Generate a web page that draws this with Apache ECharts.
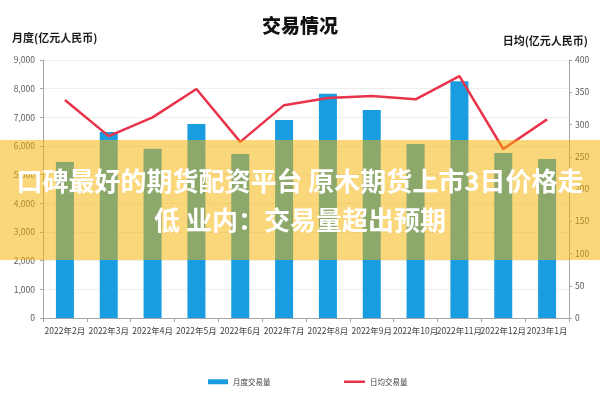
<!DOCTYPE html>
<html>
<head>
<meta charset="utf-8">
<script src="https://cdn.jsdelivr.net/npm/echarts@6/dist/echarts.min.js"></script>
<style>html,body{margin:0;padding:0;background:#fff}#c{width:600px;height:400px}</style>
</head>
<body>
<div id="c"></div>
<script>
var categories = ['2022年2月','2022年3月','2022年4月','2022年5月','2022年6月','2022年7月','2022年8月','2022年9月','2022年10月','2022年11月','2022年12月','2023年1月'];
var monthlyVolume = [5440, 6490, 5900, 6770, 5720, 6910, 7820, 7255, 6070, 8260, 5755, 5546];
var dailyVolume = [338, 282, 311, 355, 273, 330, 341, 344, 339, 375, 262, 308];
var leftTicks = {min: 0, max: 9000, interval: 1000};
var rightTicks = {min: 0, max: 400, interval: 50};
var seriesNames = ['月度交易量', '日均交易量'];
var titleText = '交易情况';
var leftName = '月度(亿元人民币)';
var rightName = '日均(亿元人民币)';
var bannerLines = ['口碑最好的期货配资平台 原木期货上市3日价格走', '低 业内：交易量超出预期'];

var font = '"Noto Sans CJK SC", "Noto Sans", sans-serif';
var chart = echarts.init(document.getElementById('c'), null, {renderer: 'canvas'});
chart.setOption({
  animation: false,
  textStyle: {fontFamily: font},
  title: {text: titleText, left: 'center', top: 11, textStyle: {fontSize: 19, fontWeight: 900, color: '#111111', fontFamily: font}},
  legend: [{
    data: [{name: seriesNames[0], icon: 'rect'}], left: 203, top: 373, itemWidth: 20, itemHeight: 5,
    textStyle: {fontSize: 7.5, color: '#404040', fontFamily: font}
  }, {
    data: [{name: seriesNames[1], icon: 'rect'}], left: 339, top: 373, itemWidth: 21, itemHeight: 2.5,
    textStyle: {fontSize: 7.5, color: '#404040', fontFamily: font}
  }],
  grid: {left: 43, right: 31, top: 60, bottom: 82},
  xAxis: {
    type: 'category', data: categories,
    axisLine: {lineStyle: {color: '#a6a6a6'}},
    axisTick: {show: true, length: 4, lineStyle: {color: '#a6a6a6'}},
    axisLabel: {interval: 0, fontSize: 8.5, color: '#404040', margin: 9, fontFamily: font}
  },
  yAxis: [{
    type: 'value', min: leftTicks.min, max: leftTicks.max, interval: leftTicks.interval,
    axisLine: {show: true, lineStyle: {color: '#a6a6a6'}},
    axisTick: {show: true, length: 3, lineStyle: {color: '#a6a6a6'}},
    splitLine: {lineStyle: {color: '#eeeeee'}},
    axisLabel: {fontSize: 8.5, color: '#595959', margin: 8, fontFamily: font,
      formatter: function (v) { return v.toLocaleString('en-US'); }}
  }, {
    type: 'value', min: rightTicks.min, max: rightTicks.max, interval: rightTicks.interval,
    axisLine: {show: true, lineStyle: {color: '#a6a6a6'}},
    axisTick: {show: true, length: 3, lineStyle: {color: '#a6a6a6'}},
    splitLine: {show: false},
    axisLabel: {fontSize: 8.5, color: '#595959', margin: 6, fontFamily: font}
  }],
  series: [{
    name: seriesNames[0], type: 'bar', data: monthlyVolume, barWidth: 18,
    itemStyle: {color: '#1a9de0'}
  }, {
    name: seriesNames[1], type: 'line', yAxisIndex: 1, data: dailyVolume,
    symbol: 'none', lineStyle: {color: '#e8334a', width: 2.5}, itemStyle: {color: '#e8334a'}
  }],
  graphic: [
    {type: 'text', left: 12, top: 32, style: {text: leftName, font: 'bold 11px ' + font, fill: '#1a1a1a'}},
    {type: 'text', right: 12, top: 35, style: {text: rightName, font: 'bold 11px ' + font, fill: '#1a1a1a'}},
    {type: 'rect', left: 0, top: 140, z: 100, shape: {width: 600, height: 120}, style: {fill: 'rgba(245,178,0,0.52)'}},
    {type: 'text', left: 'center', top: 168, z: 101, style: {text: bannerLines[0], font: 'bold 26px ' + font, fill: '#ffffff'}},
    {type: 'text', left: 'center', top: 207, z: 101, style: {text: bannerLines[1], font: 'bold 26px ' + font, fill: '#ffffff'}}
  ]
});
</script>
</body>
</html>
